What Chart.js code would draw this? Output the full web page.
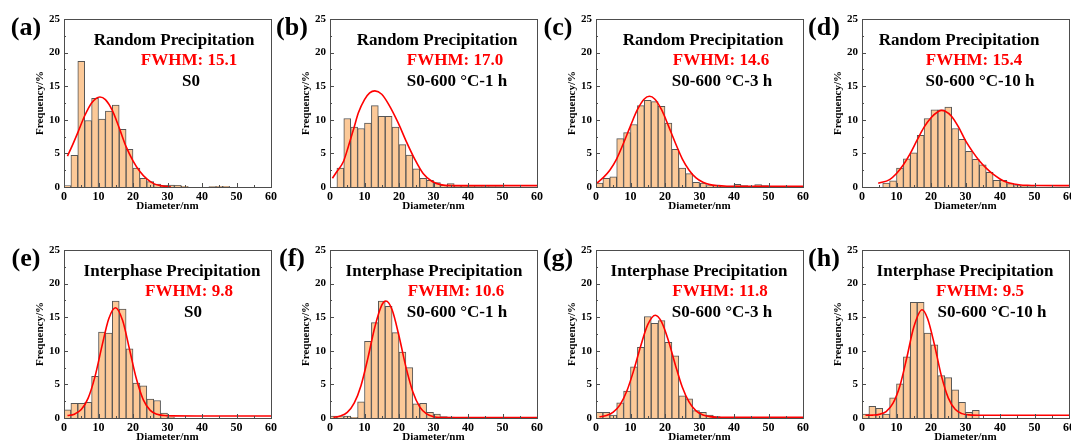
<!DOCTYPE html>
<html>
<head>
<meta charset="utf-8">
<script src="https://cdn.jsdelivr.net/npm/chart.js@4.4.1/dist/chart.umd.min.js"></script>
<style>
  body { margin: 0; background: #fff; width: 1071px; height: 441px; overflow: hidden; position: relative; }
  canvas { position: absolute; }
</style>
</head>
<body>
<script>
// histogram bins are 2 nm wide, centres below
const binCenters = [1, 3, 5, 7, 9, 11, 13, 15, 17, 19, 21, 23, 25, 27, 29, 31, 33, 35, 37, 39, 41, 43, 45, 47, 49];
const xTicks = [0, 10, 20, 30, 40, 50, 60];
const yTicks = [0, 5, 10, 15, 20, 25];

const barsA = [0.2, 4.7, 18.7, 9.9, 13.2, 10.1, 11.3, 12.2, 8.6, 5.6, 2.8, 1.3, 0.8, 0.45, 0.25, 0.3, 0.25, 0.1, 0, 0, 0, 0.05, 0.1, 0.1, 0];
const barsB = [0, 2.8, 10.2, 8.9, 8.7, 9.5, 12.1, 10.5, 10.5, 8.9, 6.3, 4.75, 2.7, 1.3, 1.0, 0.65, 0.25, 0.5, 0.15, 0.1, 0.1, 0.05, 0.05, 0.05, 0.05];
const barsC = [0.6, 1.3, 1.5, 7.2, 8.1, 9.3, 12.1, 12.9, 12.7, 12.0, 9.5, 5.6, 2.8, 2.0, 0.7, 0.6, 0.2, 0.3, 0.1, 0.15, 0.4, 0.2, 0.1, 0.35, 0.2];
const barsD = [0, 0, 0, 0.6, 0.9, 2.8, 4.2, 5.1, 7.7, 10.2, 11.5, 11.5, 11.9, 8.7, 7.1, 5.3, 4.1, 3.3, 2.2, 1.0, 1.0, 0.5, 0.2, 0.1, 0.05];
const barsE = [1.2, 2.2, 2.2, 2.35, 6.2, 12.8, 12.65, 17.4, 16.2, 10.3, 5.2, 4.8, 2.8, 2.6, 0.75, 0.1];
const barsF = [0.3, 0.2, 0.3, 0.1, 2.4, 11.4, 14.2, 17.4, 16.6, 12.7, 9.8, 7.5, 2.1, 2.2, 0.85, 0.6, 0.2, 0.15];
const barsG = [0.85, 0.85, 0.45, 2.25, 4.0, 7.6, 10.5, 15.1, 14.1, 14.5, 11.25, 9.25, 3.3, 2.85, 1.1, 0.85, 0.45, 0.2, 0.1];
const barsH = [0.6, 1.75, 1.45, 0.6, 3.0, 5.1, 9.1, 17.2, 17.2, 12.65, 10.9, 6.3, 6.0, 4.2, 2.35, 0.85, 1.15];

// fitted curves
const fitXA = [1, 2, 4, 6, 8, 10.4, 12, 14, 16, 18, 20, 22, 24, 26, 28, 30, 31];
const fitYA = [4.6, 5.7, 8.1, 10.6, 12.5, 13.4, 13.0, 11.4, 8.8, 6.0, 3.9, 2.3, 1.2, 0.5, 0.2, 0.05, 0];
const fitXB = [0.7, 2, 3.9, 5.3, 7, 8.2, 10, 11.5, 13, 15, 17, 19.8, 22, 24.6, 27, 29.5, 32, 35, 40, 50, 60];
const fitYB = [1.3, 2.3, 3.8, 6.0, 8.9, 11.0, 13.0, 14.0, 14.3, 13.8, 12.3, 9.5, 6.9, 4.1, 2.0, 0.85, 0.35, 0.2, 0.2, 0.2, 0.2];
const fitXC = [0.3, 2, 4, 6, 8, 10, 12, 14, 15.5, 17, 19, 21, 23, 25, 27, 29, 31, 33, 35, 38, 45, 60];
const fitYC = [0.6, 1.35, 2.5, 4.2, 6.55, 9.1, 11.5, 13.1, 13.5, 13.1, 11.5, 9.1, 6.55, 4.2, 2.5, 1.35, 0.7, 0.35, 0.2, 0.12, 0.1, 0.1];
const fitXD = [4.7, 8, 10, 12, 14, 16, 18, 20, 22, 23.1, 24, 26, 28, 30, 32, 34, 36, 38, 40, 42, 44, 46, 48, 50, 60];
const fitYD = [0.55, 1.1, 2.0, 3.3, 5.0, 7.0, 8.9, 10.3, 11.2, 11.4, 11.3, 10.5, 8.9, 6.9, 5.3, 3.9, 2.8, 1.9, 1.2, 0.7, 0.45, 0.3, 0.25, 0.22, 0.2];
const fitXE = [1, 3, 5, 7, 9, 11, 13, 14.9, 17, 19, 21, 23, 25, 27, 29, 31, 40, 60];
const fitYE = [0.36, 0.57, 1.25, 2.96, 6.2, 10.7, 14.8, 16.4, 14.5, 10.2, 5.8, 2.7, 1.14, 0.54, 0.37, 0.32, 0.3, 0.3];
const fitXF = [1, 3, 5, 7, 9, 11, 13, 15, 16.2, 18, 20, 22, 24, 26, 28, 30, 32, 40, 60];
const fitYF = [0.1, 0.29, 0.83, 2.2, 4.85, 8.95, 13.55, 16.8, 17.4, 16.1, 12.2, 7.6, 3.9, 1.65, 0.6, 0.2, 0.08, 0.05, 0.05];
const fitXG = [1, 3, 5, 7, 9, 11, 13, 15, 17.2, 19, 21, 23, 25, 27, 29, 31, 33, 35, 45, 60];
const fitYG = [0.18, 0.37, 0.89, 2.0, 4.1, 7.2, 10.8, 13.9, 15.3, 14.3, 11.5, 7.9, 4.6, 2.35, 1.05, 0.44, 0.2, 0.12, 0.1, 0.1];
const fitXH = [1, 3, 5, 7, 9, 11, 13, 15, 17.4, 19, 21, 23, 25, 27, 29, 31, 35, 60];
const fitYH = [0.4, 0.43, 0.54, 0.96, 2.2, 4.8, 9.0, 13.5, 16.1, 14.8, 10.9, 6.3, 3.0, 1.3, 0.65, 0.46, 0.4, 0.4];

const panelLabels = ['(a)', '(b)', '(c)', '(d)', '(e)', '(f)', '(g)', '(h)'];
const titles = ['Random Precipitation', 'Random Precipitation', 'Random Precipitation', 'Random Precipitation',
  'Interphase Precipitation', 'Interphase Precipitation', 'Interphase Precipitation', 'Interphase Precipitation'];
const fwhmLabels = ['FWHM: 15.1', 'FWHM: 17.0', 'FWHM: 14.6', 'FWHM: 15.4', 'FWHM: 9.8', 'FWHM: 10.6', 'FWHM: 11.8', 'FWHM: 9.5'];
const sampleLabels = ['S0', 'S0-600 \u00B0C-1 h', 'S0-600 \u00B0C-3 h', 'S0-600 \u00B0C-10 h',
  'S0', 'S0-600 \u00B0C-1 h', 'S0-600 \u00B0C-3 h', 'S0-600 \u00B0C-10 h'];

const allBars = [barsA, barsB, barsC, barsD, barsE, barsF, barsG, barsH];
const allFitX = [fitXA, fitXB, fitXC, fitXD, fitXE, fitXF, fitXG, fitXH];
const allFitY = [fitYA, fitYB, fitYC, fitYD, fitYE, fitYF, fitYG, fitYH];

// text centre offsets from the plot's left edge: title, fwhm, sample
const textPos = [
  [110, 125, 127], [107, 125, 127], [107, 125, 126], [97, 112, 118],
  [108, 125, 129], [104, 126, 127], [103, 124, 126], [103, 118, 130]
];

const serif = '"Liberation Serif", "Times New Roman", serif';
const W = 280, H = 215;

function makeDecor(i) {
  return {
    id: 'decor' + i,
    afterDatasetsDraw(chart) {
      const c = chart.ctx, a = chart.chartArea;
      const xs = chart.scales.x, ys = chart.scales.y;
      c.save();
      c.strokeStyle = '#4d4d4d';
      c.lineWidth = 1;
      c.strokeRect(Math.round(a.left) + 0.5, Math.round(a.top) + 0.5, Math.round(a.right - a.left), Math.round(a.bottom - a.top));
      c.beginPath();
      for (let v = 0; v <= 60; v += 5) {
        const px = Math.round(xs.getPixelForValue(v)) + 0.5;
        const len = v % 10 === 0 ? 4 : 2;
        c.moveTo(px, a.bottom);
        c.lineTo(px, a.bottom - len);
      }
      for (let v = 0; v <= 25; v += 2.5) {
        const py = Math.round(ys.getPixelForValue(v)) + 0.5;
        const len = v % 5 === 0 ? 4 : 2;
        c.moveTo(a.left, py);
        c.lineTo(a.left + len, py);
      }
      c.stroke();
      c.restore();
    },
    afterDraw(chart) {
      const c = chart.ctx, a = chart.chartArea;
      c.save();
      c.textAlign = 'center';
      c.textBaseline = 'middle';
      c.fillStyle = '#000';
      c.font = 'bold 26px ' + serif;
      c.fillText(panelLabels[i], 26, 28);
      c.font = 'bold 17px ' + serif;
      c.fillText(titles[i], a.left + textPos[i][0], a.top + 22);
      c.fillStyle = '#ff0000';
      c.fillText(fwhmLabels[i], a.left + textPos[i][1], a.top + 42);
      c.fillStyle = '#000';
      c.fillText(sampleLabels[i], a.left + textPos[i][2], a.top + 63);
      c.restore();
    }
  };
}

const tickFont = { family: serif, size: 12, weight: 'bold' };
const titleFont = { family: serif, size: 11, weight: 'bold' };

for (let i = 0; i < 8; i++) {
  const canvas = document.createElement('canvas');
  canvas.width = W;
  canvas.height = H;
  canvas.style.left = (i % 4) * 266 + 'px';
  canvas.style.top = (i < 4 ? 0 : 231) + 'px';
  document.body.appendChild(canvas);

  const bars = allBars[i];
  const barData = binCenters.map((x, k) => ({ x: x, y: bars[k] || 0 })).filter(d => d.y > 0);
  const fitData = allFitX[i].map((x, k) => ({ x: x, y: allFitY[i][k] }));

  new Chart(canvas.getContext('2d'), {
    type: 'bar',
    data: {
      datasets: [
        {
          type: 'line',
          data: fitData,
          borderColor: '#ff0000',
          borderWidth: 1.6,
          pointRadius: 0,
          cubicInterpolationMode: 'monotone',
          order: 0
        },
        {
          type: 'bar',
          data: barData,
          backgroundColor: '#fcc998',
          borderColor: '#555555',
          borderWidth: 1,
          barPercentage: 1,
          categoryPercentage: 1,
          order: 1
        }
      ]
    },
    options: {
      responsive: false,
      animation: false,
      devicePixelRatio: 1,
      layout: { padding: { left: 0, top: 19, right: 8, bottom: 0 } },
      plugins: { legend: { display: false }, tooltip: { enabled: false } },
      scales: {
        x: {
          type: 'linear',
          min: 0, max: 60,
          offset: false,
          grid: { display: false, drawTicks: false },
          border: { display: false },
          afterBuildTicks: s => { s.ticks = xTicks.map(v => ({ value: v })); },
          ticks: { padding: 3, font: tickFont, color: '#000', maxRotation: 0 },
          title: { display: true, text: 'Diameter/nm', font: titleFont, color: '#000', padding: { top: 0, bottom: 2 } },
          afterFit: s => { s.height = H - 187; }
        },
        y: {
          min: 0, max: 25,
          grid: { display: false, drawTicks: false },
          border: { display: false },
          afterBuildTicks: s => { s.ticks = yTicks.map(v => ({ value: v })); },
          ticks: { padding: 4, font: { family: serif, size: 11, weight: 'bold' }, color: '#000' },
          title: { display: true, text: 'Frequency/%', font: titleFont, color: '#000', padding: { top: 34, bottom: 0 } },
          afterFit: s => { s.width = 64; }
        }
      }
    },
    plugins: [makeDecor(i)]
  });
}
</script>
</body>
</html>
